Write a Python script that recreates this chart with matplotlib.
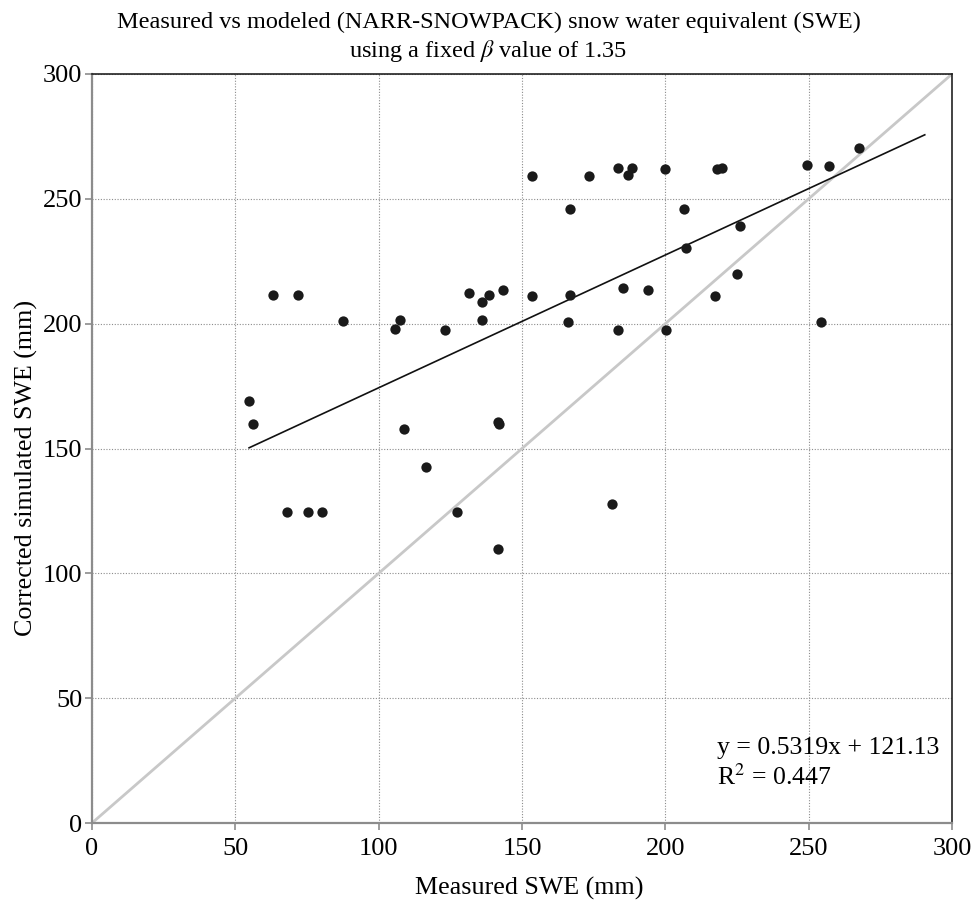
import matplotlib
matplotlib.use("Agg")
import matplotlib.pyplot as plt
import numpy as np

plt.rcParams['font.family'] = ['Liberation Serif', 'DejaVu Serif']
plt.rcParams['mathtext.fontset'] = 'stix'

# Measured SWE (mm)
measured = [54.8, 56.3, 63.2, 71.8, 87.5, 68.1, 75.2, 80.2, 105.7, 107.4,
            108.7, 123.1, 116.5, 127.2, 131.5, 136.2, 135.9, 138.4, 143.3, 141.5,
            141.5, 141.9, 153.4, 153.4, 166.7, 166.7, 165.9, 173.4, 181.3, 183.4,
            183.4, 185.2, 187.1, 188.5, 194.1, 199.8, 200.1, 206.5, 207.1, 217.3,
            217.9, 219.9, 224.9, 226.0, 249.4, 254.4, 257.0, 267.5]
# Corrected simulated SWE (mm)
simulated = [169.1, 159.8, 211.4, 211.4, 201.2, 124.4, 124.4, 124.4, 197.9, 201.5,
             157.7, 197.6, 142.7, 124.4, 212.2, 208.7, 201.3, 211.4, 213.5, 109.7,
             160.7, 160.0, 259.1, 211.1, 245.8, 211.4, 200.8, 259.1, 127.9, 262.5,
             197.3, 214.4, 259.5, 262.2, 213.5, 262.1, 197.3, 245.8, 230.4, 211.0,
             261.9, 262.5, 220.0, 239.0, 263.7, 200.7, 263.1, 270.2]

slope = 0.5319
intercept = 121.13
r2 = 0.447
fit_x = [54.8, 290.5]
one_to_one = [0, 300]
ticks = [0, 50, 100, 150, 200, 250, 300]

fig = plt.figure(figsize=(9.77, 9.02), dpi=100)
ax = fig.add_axes([92/977, 1-823/902, (952-92)/977, (823-74)/902])

ax.set_xlim(0, 300)
ax.set_ylim(0, 300)
ax.set_xticks(ticks)
ax.set_yticks(ticks)
ax.grid(True, color='#8c8c8c', linestyle=(0, (1, 1.5)), linewidth=0.8)
ax.set_axisbelow(True)

ax.plot(one_to_one, one_to_one, color='#c8c8c8', linewidth=2.0, zorder=2)
fx = np.array(fit_x)
ax.plot(fx, slope * fx + intercept, color='#111111', linewidth=1.2, zorder=3)
ax.scatter(measured, simulated, s=55, color='#1a1a1a', zorder=4, linewidths=0)

for side in ['left', 'bottom']:
    ax.spines[side].set_color('#8c8c8c')
    ax.spines[side].set_linewidth(1.6)
for side in ['top', 'right']:
    ax.spines[side].set_color('#222222')
    ax.spines[side].set_linewidth(1.2)

ax.tick_params(axis='both', which='major', direction='out', length=5, width=1.2,
               color='#8c8c8c', labelsize=19, pad=2)
ax.tick_params(axis='x', pad=5.5)

ax.set_xlabel('Measured SWE (mm)', fontsize=18.7)
ax.set_ylabel('Corrected simulated SWE (mm)', fontsize=18.7)
ax.xaxis.set_label_coords((529 - 92) / 860, (823 - 877) / 749)
ax.yaxis.set_label_coords((38 - 92) / 860, (823 - 468) / 749)

fig.text(0.5, 1-22/902, 'Measured vs modeled (NARR-SNOWPACK) snow water equivalent (SWE)',
         ha='center', va='center', fontsize=17.5)
fig.text(0.5, 1-51/902, r'using a fixed $\beta$ value of 1.35',
         ha='center', va='center', fontsize=17.5)

ax.text(218, 30, f'y = {slope}x + {intercept}', fontsize=18.5, va='center', ha='left')
ax.text(218, 18.5, f'R$^2$ = {r2}', fontsize=18.5, va='center', ha='left')

fig.savefig('out.png', dpi=100)
